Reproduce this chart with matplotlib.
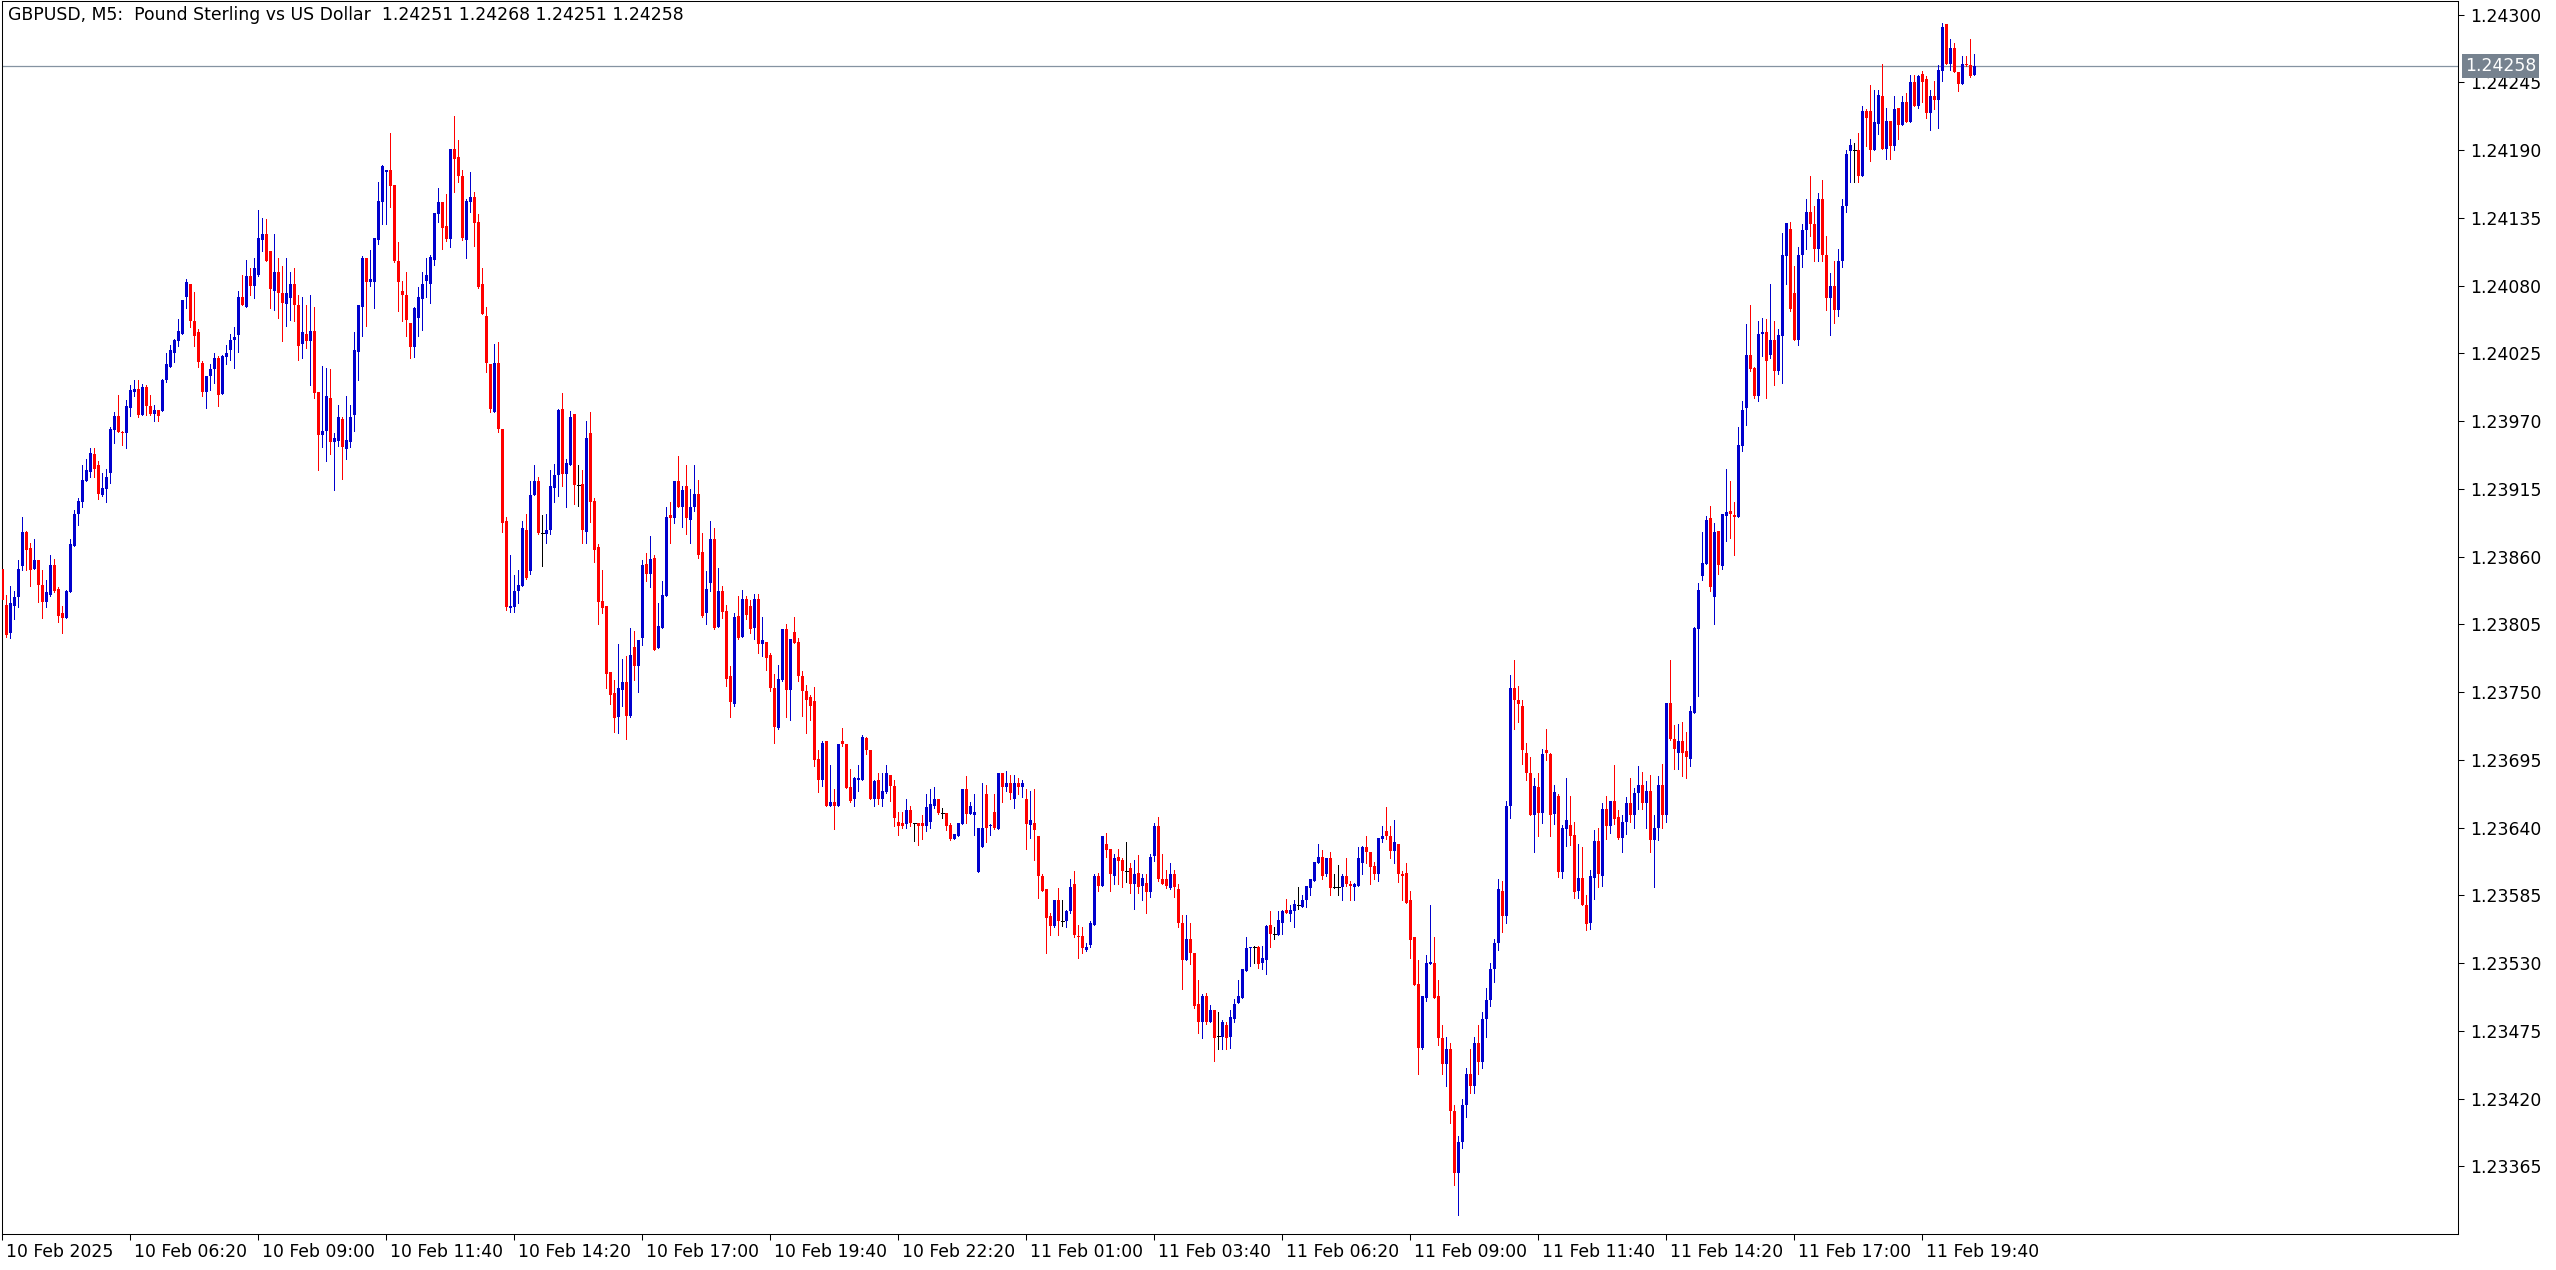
import matplotlib
matplotlib.use("Agg")
import matplotlib.pyplot as plt
import numpy as np

# Prices are stored in points (1e-5) above BASE
BASE = 1.23
PT = 1e-5

opens = [
850,821,798,820,827,852,880,867,850,857,
837,823,829,853,834,814,810,831,869,895,
904,921,929,943,934,910,915,928,963,974,
961,960,981,994,996,975,998,982,976,979,
978,1003,1014,1025,1035,1041,1071,1081,1051,1042,
1017,994,1007,1012,1021,992,1022,1028,1036,1040,
1071,1063,1088,1080,1089,1117,1122,1108,1076,1091,
1074,1065,1070,1081,1064,1033,1041,1035,1043,994,
959,962,989,953,954,972,947,953,975,1026,
1063,1102,1083,1083,1117,1148,1172,1174,1162,1100,
1076,1072,1050,1030,1054,1069,1084,1081,1101,1138,
1148,1128,1118,1191,1184,1169,1117,1148,1152,1132,
1081,1055,1016,977,1017,964,889,818,819,832,
836,882,848,910,921,879,878,882,916,926,
980,927,934,976,918,919,880,960,905,868,
824,820,766,749,730,752,758,731,787,771,
794,854,846,859,786,802,828,894,891,921,
900,917,890,900,911,864,814,839,874,803,
832,816,763,740,812,795,826,820,802,826,
789,791,780,753,721,760,801,752,799,791,
763,751,746,743,696,679,710,658,661,658,
710,708,673,663,679,679,713,703,663,679,
663,669,683,674,645,644,643,654,644,644,
644,641,645,658,663,652,652,642,631,633,
643,671,651,650,604,624,667,641,653,639,
684,673,676,663,676,673,663,642,644,633,
601,590,568,560,581,564,564,572,594,552,
552,541,545,561,601,593,627,623,601,616,
614,605,607,594,603,593,595,588,617,641,
598,598,591,602,590,563,533,550,538,497,
482,503,482,492,471,470,480,470,485,498,
502,524,542,543,543,530,533,561,554,553,
563,573,570,572,577,576,581,591,597,611,
616,602,615,592,592,592,601,594,592,593,
611,624,620,609,602,631,637,633,621,627,
602,603,581,551,513,461,502,529,530,503,
469,448,460,410,360,385,415,440,430,465,
450,485,500,525,546,589,568,658,753,744,
739,701,684,650,673,652,703,700,651,666,
604,639,642,634,589,599,577,563,599,629,
601,655,641,662,649,632,645,660,650,668,
675,660,670,630,640,675,650,741,712,701,
710,702,696,733,801,844,854,891,827,881,
852,893,897,894,892,950,981,1024,1013,990,
1041,1042,1024,1036,1011,1039,1104,1126,1074,1036,
1105,1125,1140,1130,1110,1150,1105,1070,1080,1060,
1100,1145,1189,1190,1190,1169,1222,1222,1190,1211,
1234,1191,1214,1193,1224,1210,1229,1213,1245,1226,
1252,1248,1220,1234,1231,1254,1292,1260,1273,1253,
1244,1260,1259,1251]

highs = [
850,829,836,832,857,892,881,871,874,857,
849,841,861,858,835,820,833,874,898,908,
934,939,948,948,938,928,931,965,977,991,
962,987,999,1003,1003,1000,999,991,983,979,
1004,1025,1032,1037,1053,1068,1085,1081,1075,1045,
1019,1007,1016,1025,1023,1024,1032,1041,1046,1076,
1089,1101,1094,1102,1141,1135,1134,1108,1122,1102,
1096,1102,1091,1094,1072,1071,1064,1072,1063,994,
1015,1013,1012,960,983,973,990,983,1042,1064,
1104,1102,1109,1119,1164,1178,1174,1204,1162,1115,
1084,1091,1050,1063,1079,1091,1102,1105,1139,1159,
1148,1154,1191,1218,1198,1174,1150,1172,1156,1138,
1094,1063,1016,1033,1034,964,892,861,845,849,
889,895,921,934,925,894,895,930,935,980,
993,939,978,976,934,930,970,977,908,870,
849,820,766,760,789,777,779,802,800,792,
857,863,877,861,822,840,900,904,921,942,
917,934,915,934,922,879,848,889,883,851,
836,821,771,814,828,833,828,825,830,830,
811,791,782,765,772,801,805,793,811,794,
767,756,748,754,703,710,710,691,671,708,
721,708,688,681,691,715,714,703,679,684,
684,691,683,679,653,653,663,658,644,644,
650,667,671,673,663,656,652,644,635,644,
671,682,661,667,640,676,675,643,667,684,
684,686,683,683,680,679,671,670,671,633,
602,590,571,581,591,581,573,598,605,561,
559,546,564,602,603,633,636,623,619,623,
615,628,611,614,618,602,602,619,644,649,
619,606,611,606,594,569,569,563,538,516,
505,506,496,492,490,484,482,492,501,516,
525,551,543,544,544,544,561,572,559,572,
573,582,577,581,592,585,593,598,612,627,
622,615,620,602,610,602,615,597,595,624,
625,633,620,612,632,641,657,641,646,627,
605,611,589,551,533,503,537,577,551,516,
480,470,465,415,390,420,445,460,470,480,
490,510,530,550,598,597,662,764,776,755,
744,709,697,680,684,704,720,701,675,667,
642,680,666,645,627,624,585,606,638,640,
660,666,662,691,654,650,665,680,672,690,
685,678,683,650,682,692,741,776,723,724,
726,718,739,803,839,880,893,901,887,881,
895,931,921,904,965,986,1049,1064,1014,1051,
1054,1053,1081,1051,1045,1123,1131,1132,1096,1111,
1130,1150,1169,1145,1155,1166,1120,1090,1100,1110,
1150,1190,1199,1196,1204,1226,1223,1243,1239,1239,
1260,1224,1214,1234,1224,1234,1236,1251,1251,1251,
1254,1250,1239,1246,1259,1293,1292,1280,1277,1253,
1266,1266,1280,1268]

lows = [
825,795,794,809,819,849,849,836,850,823,
810,819,828,831,807,798,810,831,869,886,
900,921,925,925,907,909,904,920,952,961,
951,948,974,990,973,975,975,975,970,970,
978,1002,1014,1018,1031,1041,1062,1046,1031,1014,
990,981,995,1001,982,992,1016,1020,1013,1026,
1064,1063,1072,1070,1088,1108,1100,1062,1060,1054,
1035,1047,1052,1051,1020,1021,1029,999,989,930,
949,938,943,914,950,923,939,949,962,1003,
1039,1047,1080,1062,1114,1130,1130,1144,1099,1059,
1051,1039,1021,1022,1039,1044,1071,1066,1097,1132,
1110,1116,1111,1156,1164,1117,1102,1140,1112,1078,
1057,1010,977,977,961,880,817,815,815,822,
836,842,846,910,878,852,871,878,904,909,
917,900,934,903,901,871,871,888,856,805,
814,753,740,718,717,739,712,730,760,750,
788,840,835,784,786,802,828,871,887,900,
884,878,871,897,859,811,805,832,801,803,
810,755,730,739,793,795,809,798,793,782,
779,768,751,709,720,759,730,727,790,759,
731,717,727,690,669,674,658,658,639,658,
706,672,661,658,670,679,700,663,658,659,
658,668,662,641,634,640,640,641,629,626,
631,637,640,656,651,648,638,630,631,633,
643,644,651,634,604,624,628,634,639,639,
661,670,663,656,667,665,623,632,614,583,
589,538,553,559,553,560,559,571,551,534,
538,540,543,561,589,593,616,589,594,594,
592,596,587,574,587,581,571,584,613,597,
594,591,590,584,559,509,533,529,494,473,
469,481,482,451,460,460,460,461,482,498,
502,524,528,530,526,525,521,543,550,553,
554,571,564,559,574,576,576,585,597,611,
598,601,585,591,585,581,593,581,581,593,
602,611,594,598,597,628,631,615,611,596,
581,579,534,512,440,460,499,529,502,464,
440,430,400,350,326,380,405,425,425,440,
445,470,495,515,541,555,563,648,720,726,
692,679,650,620,633,644,695,633,643,600,
599,625,626,583,583,577,557,558,582,592,
593,631,636,643,631,620,635,645,640,655,
655,640,620,592,630,640,645,711,688,688,
682,680,690,733,747,841,854,832,805,846,
850,873,875,861,892,946,967,1011,989,986,
1023,989,1021,999,1008,1001,1081,1059,1036,1032,
1095,1110,1120,1100,1100,1100,1060,1040,1050,1055,
1095,1140,1164,1164,1164,1169,1193,1181,1190,1203,
1191,1183,1183,1190,1199,1210,1213,1213,1226,1224,
1229,1216,1206,1223,1208,1246,1260,1255,1253,1238,
1244,1258,1249,1251]

closes = [
825,796,822,827,850,880,865,849,857,837,
823,831,853,832,812,810,832,870,895,905,
922,930,944,931,911,916,925,964,974,961,
960,982,995,996,975,998,982,976,979,974,
1003,1016,1028,1036,1043,1068,1083,1051,1039,1018,
994,1007,1012,1021,991,1023,1025,1036,1038,1071,
1064,1088,1080,1094,1119,1122,1100,1077,1091,1074,
1066,1074,1081,1064,1031,1042,1035,1043,993,959,
962,990,953,956,973,949,955,973,1028,1064,
1102,1083,1085,1119,1149,1177,1174,1161,1100,1083,
1072,1052,1030,1062,1071,1081,1089,1103,1139,1148,
1127,1118,1191,1183,1169,1119,1149,1152,1131,1079,
1057,1017,980,1017,964,887,819,820,832,837,
883,843,910,921,879,879,882,917,926,979,
927,936,973,918,918,882,956,904,865,823,
818,765,748,729,753,758,731,780,771,792,
853,846,858,784,804,829,892,891,921,900,
914,891,900,911,861,812,834,874,802,832,
815,761,742,811,794,826,813,801,826,789,
792,778,753,722,761,801,752,793,790,763,
751,744,739,695,679,709,658,661,658,708,
708,672,662,680,680,714,703,663,678,663,
670,684,674,648,641,641,654,644,644,641,
641,657,659,663,652,652,641,631,635,644,
671,651,658,653,640,640,640,642,640,684,
673,676,668,676,673,676,643,646,638,601,
589,567,560,581,564,564,572,592,553,551,
542,543,563,601,593,633,622,602,615,613,
605,605,594,602,592,599,588,616,641,598,
594,593,602,592,563,533,550,538,495,482,
503,482,492,469,471,482,469,486,497,503,
525,542,543,543,529,534,560,554,554,565,
572,571,573,578,577,581,593,598,612,616,
601,615,591,592,592,601,594,593,594,615,
624,620,608,602,632,633,633,621,628,602,
601,579,549,512,461,503,530,531,502,469,
448,460,410,360,385,415,440,430,465,450,
485,500,525,546,590,568,658,753,744,740,
703,684,650,674,652,700,701,650,669,604,
640,646,633,588,599,577,562,601,629,602,
655,641,662,647,632,645,660,650,668,675,
660,670,630,640,675,650,741,712,704,710,
701,697,735,802,833,855,890,835,880,853,
895,896,895,892,951,979,1024,1012,990,1041,
1042,1019,1036,1011,1040,1105,1131,1061,1036,1105,
1125,1140,1130,1110,1150,1105,1070,1080,1060,1100,
1145,1187,1194,1190,1169,1222,1216,1190,1213,1235,
1191,1214,1193,1223,1210,1229,1213,1245,1226,1250,
1245,1220,1234,1231,1255,1290,1260,1273,1253,1244,
1260,1259,1250,1258]

time_labels = ["10 Feb 2025", "10 Feb 06:20", "10 Feb 09:00", "10 Feb 11:40",
               "10 Feb 14:20", "10 Feb 17:00", "10 Feb 19:40", "10 Feb 22:20",
               "11 Feb 01:00", "11 Feb 03:40", "11 Feb 06:20", "11 Feb 09:00",
               "11 Feb 11:40", "11 Feb 14:20", "11 Feb 17:00", "11 Feb 19:40"]
label_bars = [0, 32, 64, 96, 128, 160, 192, 224, 256, 288, 320, 352, 384, 416, 448, 480]
price_ticks = [1.23365, 1.23420, 1.23475, 1.23530, 1.23585, 1.23640, 1.23695, 1.23750,
               1.23805, 1.23860, 1.23915, 1.23970, 1.24025, 1.24080, 1.24135, 1.24190,
               1.24245, 1.24300]
title = "GBPUSD, M5:  Pound Sterling vs US Dollar  1.24251 1.24268 1.24251 1.24258"
last_price = 1.24258

assert len(opens) == len(highs) == len(lows) == len(closes), (len(opens), len(highs), len(lows), len(closes))

O = BASE + np.array(opens) * PT
Hh = BASE + np.array(highs) * PT
Lw = BASE + np.array(lows) * PT
C = BASE + np.array(closes) * PT
n = len(O)
x = np.arange(n)

BLUE = "#0000CD"
RED = "#FF0000"
FS = 12.4

W, H = 2556, 1270
fig = plt.figure(figsize=(W / 100, H / 100), dpi=100)
fig.patch.set_facecolor("white")
left_px, right_px, top_px, bottom_px = 2, 2458, 1, 1234
ax = fig.add_axes([left_px / W, 1 - bottom_px / H,
                   (right_px - left_px) / W, (bottom_px - top_px) / H])
ax.set_facecolor("white")

up = C > O
dn = C < O
dj = C == O
cols = np.where(up, BLUE, np.where(dn, RED, "black"))

ax.vlines(x, Lw, Hh, colors=cols, linewidth=0.72, antialiased=False, zorder=2)
bottoms = np.minimum(O, C)
heights = np.abs(C - O)
m = ~dj
ax.bar(x[m], heights[m], bottom=bottoms[m], width=0.74, color=cols[m],
       linewidth=0, antialiased=False, zorder=3)
ax.hlines(O[dj], x[dj] - 0.37, x[dj] + 0.37, colors="black", linewidth=0.72,
          antialiased=False, zorder=3)

ax.set_xlim(-0.075, 613.9)
ax.set_ylim(1.233102, 1.243110)

ax.axhline(last_price, color="#8593a1", linewidth=0.9, zorder=1)

for s in ax.spines.values():
    s.set_linewidth(0.75)
    s.set_color("black")

ax.yaxis.tick_right()
ax.set_yticks(price_ticks)
ax.set_yticklabels([f"{t:.5f}" for t in price_ticks])
ax.tick_params(axis="y", direction="out", length=4, width=0.75, pad=5,
               labelsize=FS, colors="black")
ax.set_xticks(label_bars)
ax.set_xticklabels([])
ax.tick_params(axis="x", direction="out", length=4, width=0.75)

for b, lab in zip(label_bars, time_labels):
    ax.annotate(lab, xy=(b, 0), xycoords=("data", "axes fraction"),
                xytext=(4, -18), textcoords="offset pixels",
                ha="left", va="center", fontsize=FS, color="black")

ax.annotate(f"{last_price:.5f}", xy=(1, last_price), xycoords=("axes fraction", "data"),
            xytext=(7, 0), textcoords="offset pixels", ha="left", va="center",
            fontsize=FS, color="white", zorder=10, annotation_clip=False,
            bbox=dict(boxstyle="square,pad=0.18", fc="#76828f", ec="none"))

fig.text(8 / W, 1 - 15 / H, title, ha="left", va="center", fontsize=FS, color="black")

fig.savefig("out.png", dpi=100, facecolor="white")
